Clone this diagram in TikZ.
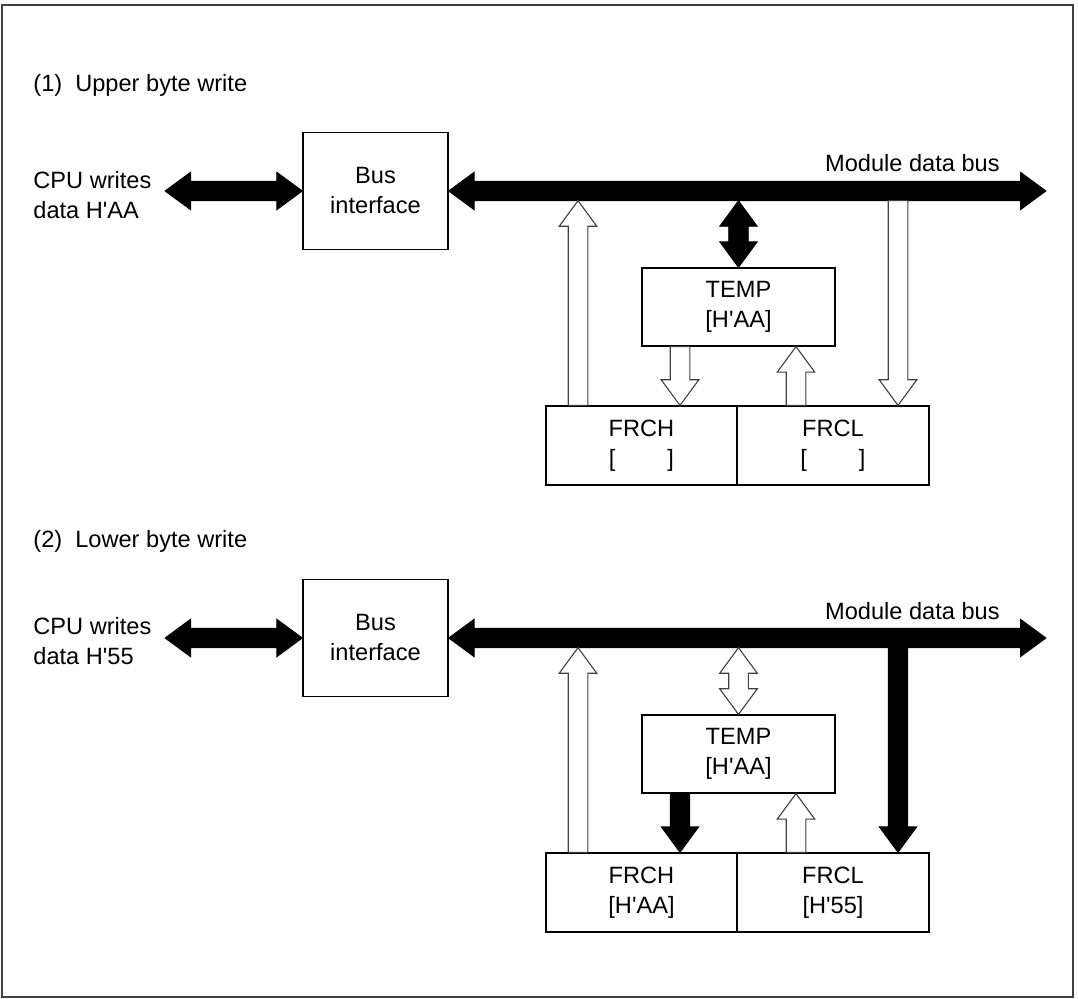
\documentclass[tikz,border=0pt]{standalone}
\usepackage{fontspec}
\setmainfont{Liberation Sans}
\usetikzlibrary{calc}

\begin{document}
\begin{tikzpicture}[x=0.5pt, y=-0.5pt,
      every node/.style={font=\fontsize{11.8}{15}\selectfont, inner sep=0pt, align=center},
      box/.style={draw, line width=0.6pt},
      blk/.style={draw=black, fill=black, line width=0.4pt},
      opn/.style={draw=black!75, fill=white, line width=0.55pt},
      fatone/.style={to path={let \p1=($(\tikztotarget)!12.8pt!(\tikztostart)$) in
        ($(\tikztostart)!4.9pt!90:(\tikztotarget)$) -- ($(\p1)!4.9pt!90:(\tikztotarget)$)
        -- ($(\p1)!9.4pt!90:(\tikztotarget)$) -- (\tikztotarget)
        -- ($(\p1)!9.4pt!-90:(\tikztotarget)$) -- ($(\p1)!4.9pt!-90:(\tikztotarget)$)
        -- ($(\tikztostart)!4.9pt!-90:(\tikztotarget)$) -- cycle}},
      fattwo/.style={to path={let \p1=($(\tikztotarget)!12.8pt!(\tikztostart)$),
                                  \p2=($(\tikztostart)!12.8pt!(\tikztotarget)$) in
        (\tikztostart) -- ($(\p2)!9.4pt!90:(\tikztotarget)$) -- ($(\p2)!4.9pt!90:(\tikztotarget)$)
        -- ($(\p1)!4.9pt!90:(\tikztotarget)$) -- ($(\p1)!9.4pt!90:(\tikztotarget)$) -- (\tikztotarget)
        -- ($(\p1)!9.4pt!-90:(\tikztotarget)$) -- ($(\p1)!4.9pt!-90:(\tikztotarget)$)
        -- ($(\p2)!4.9pt!-90:(\tikztotarget)$) -- ($(\p2)!9.4pt!-90:(\tikztotarget)$) -- cycle}}]
    \useasboundingbox (0,0) rectangle (1078,999);
    \draw[line width=1pt, black!75] (2,5) rectangle (1073,997.5);
    \coordinate (xa) at (680,0);
    \coordinate (xb) at (796,0);
    % (1) upper byte write
    \node[anchor=west] (ttl1) at (33,85) {(1)~~Upper byte write};
    \node[anchor=west, align=left] (cpu1) at (33,195) {CPU writes\\data H\textquotesingle AA};
    \node[box, minimum width=72.5pt, minimum height=58.5pt] (bif1) at (375.5,191) {Bus\\interface};
    \node[anchor=east] (mdb1) at (1000,163) {Module data bus};
    \node[box, minimum width=96.5pt, minimum height=39pt] (tmp1) at (738.5,307) {TEMP\\{[H\textquotesingle AA]}};
    \node[box, minimum width=95.5pt, minimum height=39.5pt] (frh1) at (641.5,445.5) {FRCH\\{[\hspace{26pt}]}};
    \node[box, minimum width=96pt, minimum height=39.5pt] (frl1) at (833,445.5) {FRCL\\{[\hspace{26pt}]}};
    \coordinate (cpe1) at (165,191);
    \coordinate (bue1) at (1046,191);
    \coordinate (tpa1) at (578,200.7);
    \coordinate (tpb1) at (898,200.7);
    \draw[blk] (cpe1) to[fattwo] (bif1.west);
    \draw[blk] (bif1.east) to[fattwo] (bue1);
    \draw[opn] (frh1.north -| tpa1) to[fatone] (tpa1);
    \draw[blk] (tmp1.north |- tpa1) to[fattwo] (tmp1.north);
    \draw[opn] (tmp1.south -| xa) to[fatone] (frh1.north -| xa);
    \draw[opn] (frl1.north -| xb) to[fatone] (tmp1.south -| xb);
    \draw[opn] (tpb1) to[fatone] (frl1.north -| tpb1);
    % (2) lower byte write
    \node[anchor=west] (ttl2) at (33,541.7) {(2)~~Lower byte write};
    \node[anchor=west, align=left] (cpu2) at (33,641) {CPU writes\\data H\textquotesingle 55};
    \node[box, minimum width=72.5pt, minimum height=58.5pt] (bif2) at (375.5,638) {Bus\\interface};
    \node[anchor=east] (mdb2) at (1000,611) {Module data bus};
    \node[box, minimum width=96.5pt, minimum height=39pt] (tmp2) at (738.5,754) {TEMP\\{[H\textquotesingle AA]}};
    \node[box, minimum width=95.5pt, minimum height=39.5pt] (frh2) at (641.5,892.5) {FRCH\\{[H\textquotesingle AA]}};
    \node[box, minimum width=96pt, minimum height=39.5pt] (frl2) at (833,892.5) {FRCL\\{[H\textquotesingle 55]}};
    \coordinate (cpe2) at (165,638);
    \coordinate (bue2) at (1046,638);
    \coordinate (tpa2) at (578,647.7);
    \coordinate (tpb2) at (898,647.7);
    \draw[blk] (cpe2) to[fattwo] (bif2.west);
    \draw[blk] (bif2.east) to[fattwo] (bue2);
    \draw[opn] (frh2.north -| tpa2) to[fatone] (tpa2);
    \draw[opn] (tmp2.north |- tpa2) to[fattwo] (tmp2.north);
    \draw[blk] (tmp2.south -| xa) to[fatone] (frh2.north -| xa);
    \draw[opn] (frl2.north -| xb) to[fatone] (tmp2.south -| xb);
    \draw[blk] (tpb2) to[fatone] (frl2.north -| tpb2);
\end{tikzpicture}
\end{document}
